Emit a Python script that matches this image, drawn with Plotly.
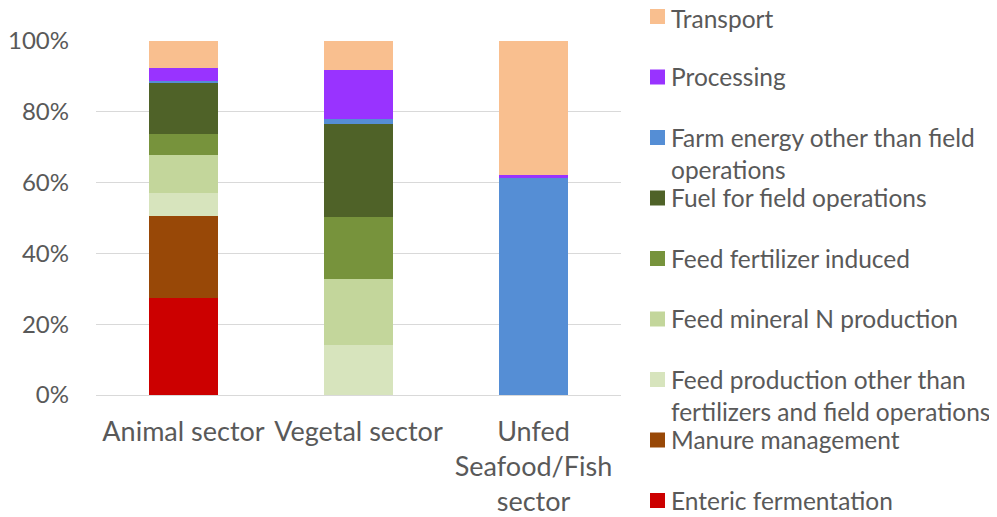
import plotly.graph_objects as go

categories = ["Animal sector", "Vegetal sector", "Unfed<br>Seafood/Fish<br>sector"]

series_names = [
    "Enteric fermentation",
    "Manure management",
    "Feed production other than<br>fertilizers and field operations",
    "Feed mineral N production",
    "Feed fertilizer induced",
    "Fuel for field operations",
    "Farm energy other than field<br>operations",
    "Processing",
    "Transport",
]

enteric = [27.5, 0.0, 0.0]
manure = [23.0, 0.0, 0.0]
feed_other = [6.7, 14.0, 0.0]
feed_mineral_n = [10.5, 18.8, 0.0]
feed_fert_induced = [6.0, 17.5, 0.0]
fuel_field = [14.5, 26.3, 0.0]
farm_energy = [0.4, 1.3, 61.2]
processing = [3.8, 13.8, 0.9]
transport = [7.6, 8.3, 37.9]

series_values = [enteric, manure, feed_other, feed_mineral_n, feed_fert_induced,
                 fuel_field, farm_energy, processing, transport]

colors = ["#CC0000", "#984807", "#D7E4BD", "#C3D69B", "#77933C",
          "#4F6228", "#558ED5", "#9933FF", "#F9BF8F"]

FONT = "Lato"
GREY = "#595959"

fig = go.Figure()
for name, vals, col in zip(series_names, series_values, colors):
    fig.add_trace(go.Bar(x=categories, y=vals, name=name.replace("<br>", " "),
                         marker=dict(color=col, line=dict(width=0)),
                         showlegend=False))

# page has an 8px body margin; work in page pixels and convert
OFF = 8
W, H = 997 - OFF, 517 - OFF
L, R, T, B = 96 - OFF, 376, 41 - OFF, 122
pw, ph = W - L - R, H - T - B

def px_to_paper_x(x):
    return (x - OFF - L) / pw

def px_to_paper_y(y):
    return (H - B - (y - OFF)) / ph

# manual legend (top entry = last series)
shapes = []
annotations = []
for i, (name, col) in enumerate(zip(series_names[::-1], colors[::-1])):
    yc = 16.5 + i * 60.5
    text_top = max(yc - 17, 1.5)
    shapes.append(dict(type="rect", xref="paper", yref="paper",
                       x0=px_to_paper_x(650), x1=px_to_paper_x(665),
                       y0=px_to_paper_y(yc + 7.5), y1=px_to_paper_y(yc - 7.5),
                       fillcolor=col, line=dict(width=0)))
    annotations.append(dict(xref="paper", yref="paper",
                            x=px_to_paper_x(669), y=px_to_paper_y(text_top),
                            xanchor="left", yanchor="top", align="left",
                            text=name, showarrow=False,
                            font=dict(family=FONT, size=24.5, color=GREY)))

fig.update_layout(
    width=W, height=H,
    margin=dict(l=L, r=R, t=T, b=B, pad=0, autoexpand=False),
    barmode="stack",
    bargap=0.605,
    plot_bgcolor="white",
    paper_bgcolor="white",
    font=dict(family=FONT, size=26, color=GREY),
    shapes=shapes,
    annotations=annotations,
    xaxis=dict(showgrid=False, showline=False, ticks="", ticklabelstandoff=18,
               automargin=False,
               tickfont=dict(family=FONT, size=27, color=GREY)),
    yaxis=dict(range=[0, 100], dtick=20, ticksuffix="%", showgrid=True,
               gridcolor="#D9D9D9", gridwidth=1, zeroline=True,
               zerolinecolor="#D9D9D9", zerolinewidth=1, showline=False,
               ticks="", ticklabelstandoff=26, automargin=False,
               tickfont=dict(family=FONT, size=24, color=GREY)),
)

fig.write_html("out.html")
